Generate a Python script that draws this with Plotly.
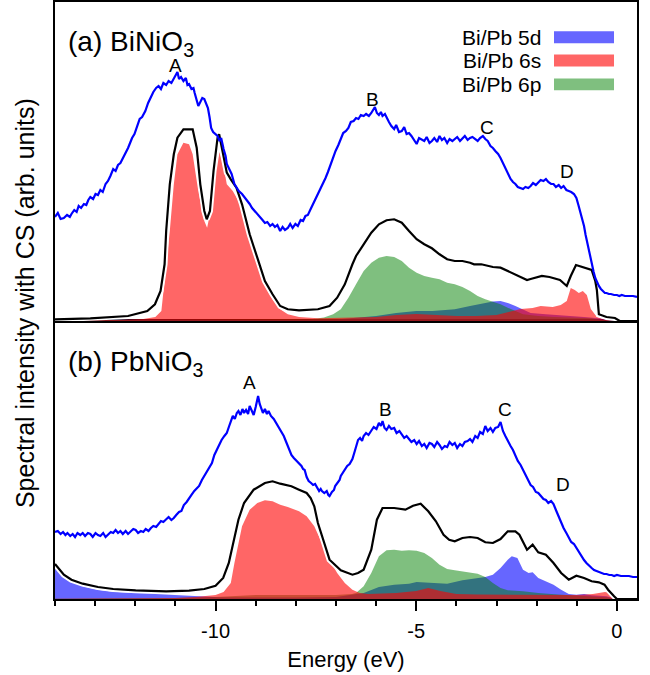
import plotly.graph_objects as go

# ---------------- data (energies in eV, intensities in arb. units) -------------
# Panel (a) BiNiO3
a_exp_E = [-14.00,-13.93,-13.86,-13.78,-13.70,-13.63,-13.59,-13.52,-13.46,-13.41,-13.35,-13.28,-13.22,-13.17,-13.12,-13.05,-12.99,-12.93,-12.87,-12.81,-12.74,-12.68,-12.62,-12.55,-12.49,-12.43,-12.37,-12.30,-12.24,-12.18,-12.13,-12.08,-12.02,-11.95,-11.89,-11.83,-11.75,-11.68,-11.61,-11.55,-11.48,-11.42,-11.36,-11.30,-11.23,-11.17,-11.10,-11.04,-10.98,-10.95,-10.91,-10.86,-10.80,-10.74,-10.70,-10.66,-10.60,-10.55,-10.52,-10.47,-10.43,-10.38,-10.33,-10.28,-10.23,-10.19,-10.15,-10.11,-10.06,-10.00,-9.95,-9.90,-9.86,-9.80,-9.75,-9.72,-9.66,-9.60,-9.53,-9.48,-9.42,-9.34,-9.28,-9.21,-9.15,-9.09,-9.02,-8.96,-8.90,-8.83,-8.77,-8.71,-8.64,-8.58,-8.52,-8.46,-8.39,-8.33,-8.27,-8.20,-8.14,-8.08,-8.01,-7.95,-7.88,-7.82,-7.76,-7.70,-7.63,-7.57,-7.51,-7.45,-7.39,-7.32,-7.26,-7.20,-7.13,-7.07,-7.01,-6.94,-6.88,-6.82,-6.75,-6.69,-6.63,-6.56,-6.50,-6.44,-6.38,-6.31,-6.25,-6.18,-6.12,-6.07,-6.03,-5.98,-5.93,-5.88,-5.84,-5.78,-5.74,-5.68,-5.62,-5.55,-5.50,-5.43,-5.36,-5.30,-5.24,-5.18,-5.12,-5.05,-4.99,-4.93,-4.86,-4.80,-4.74,-4.67,-4.61,-4.55,-4.48,-4.42,-4.36,-4.30,-4.23,-4.17,-4.10,-4.04,-3.98,-3.91,-3.85,-3.79,-3.72,-3.66,-3.60,-3.53,-3.47,-3.41,-3.34,-3.28,-3.22,-3.15,-3.09,-3.03,-2.96,-2.90,-2.84,-2.78,-2.72,-2.65,-2.59,-2.53,-2.47,-2.40,-2.34,-2.28,-2.21,-2.15,-2.09,-2.02,-1.96,-1.90,-1.83,-1.77,-1.71,-1.64,-1.58,-1.52,-1.45,-1.39,-1.33,-1.26,-1.20,-1.14,-1.07,-1.01,-0.96,-0.92,-0.87,-0.82,-0.78,-0.73,-0.68,-0.63,-0.58,-0.54,-0.49,-0.45,-0.40,-0.35,-0.30,-0.26,-0.20,-0.15,-0.07,0.00,0.06,0.12,0.20,0.30,0.40,0.50]
a_exp_I = [104,108,102,103,106,104,107,111,109,115,113,117,116,121,124,122,127,126,131,129,137,140,145,152,150,156,158,163,168,173,178,183,187,195,202,204,210,218,225,229,233,235,232,238,236,240,238,242,246,249,242,244,240,243,236,237,232,233,228,222,215,219,223,222,216,213,204,193,189,187,185,180,183,172,165,157,152,147,137,134,130,127,124,120,117,113,110,107,104,101,98,99,95,97,94,96,90,94,91,93,97,93,97,95,101,100,105,106,112,117,121,127,132,137,143,149,157,163,170,176,183,188,190,193,199,200,203,202,206,205,207,205,208,211,214,208,206,209,205,207,203,199,195,192,196,189,190,194,187,188,185,180,177,183,181,180,184,178,180,183,179,185,181,183,178,182,180,182,184,180,183,185,181,183,184,182,180,183,185,182,180,175,173,170,167,163,158,152,147,142,139,137,134,133,132,134,133,135,138,136,139,141,140,142,139,137,137,134,136,133,135,131,130,129,127,123,116,110,105,95,86,76,66,57,49,43,38,35,32,30,28,28,27,27,26,26,25,26,25,25,25,24]

a_tot_E = [-14.0,-13.12,-12.18,-11.7,-11.51,-11.37,-11.27,-11.23,-11.14,-11.04,-10.95,-10.80,-10.57,-10.47,-10.38,-10.28,-10.22,-10.14,-10.05,-9.95,-9.91,-9.81,-9.72,-9.62,-9.48,-9.34,-9.15,-8.96,-8.77,-8.58,-8.39,-8.20,-7.92,-7.45,-7.16,-6.97,-6.78,-6.59,-6.50,-6.31,-6.12,-5.93,-5.74,-5.55,-5.36,-5.18,-4.99,-4.80,-4.61,-4.42,-4.23,-4.04,-3.85,-3.66,-3.56,-3.38,-3.09,-2.90,-2.72,-2.53,-2.24,-2.15,-1.97,-1.87,-1.68,-1.42,-1.25,-1.15,-1.02,-0.84,-0.63,-0.54,-0.50,-0.45,-0.26,-0.05,0.07,0.5]
a_tot_I = [1.7,2.7,5,10,16.7,30,56.7,90,136.7,166.7,183.3,191.7,191.7,173.3,136.7,110,101.7,110,150,183.3,186.7,166.7,148.3,141.7,133.3,116.7,86.7,63.3,40,26.7,15,11.7,10.7,11.7,15,23.3,36.7,56.7,65,76.7,88.3,96.7,100.7,101.7,98.3,90,81.7,76.7,72.7,66.7,61.7,60,60,58.3,56.7,56.7,54,53.3,50,46,41,42,44,45,44,41,35,45,56,54,51,40,31,6.7,4,3,0,0]

a_5d_E = [-14,-12,-10,-8,-7,-6.5,-6,-5.5,-5.0,-4.6,-4.04,-3.66,-3.28,-3.09,-2.90,-2.72,-2.53,-2.34,-2.15,-1.77,-1.30,-0.82,-0.45,-0.2,0,0.5]
a_5d_I = [1.5,1.2,1,1,1.5,3,5,8,10,10,11.7,15,18,19.5,20,18,15,11.7,8,6.7,5,4,2.7,1,0,0]

a_6s_E = [-14,-12.5,-11.8,-11.5,-11.35,-11.23,-11.14,-11.04,-10.95,-10.80,-10.66,-10.57,-10.43,-10.28,-10.21,-10.09,-10.0,-9.91,-9.81,-9.72,-9.57,-9.43,-9.34,-9.15,-8.96,-8.77,-8.58,-8.39,-8.20,-7.92,-7.45,-7.0,-6.0,-5.5,-5.0,-4.5,-4.0,-3.5,-3.0,-2.7,-2.4,-2.1,-1.9,-1.6,-1.4,-1.25,-1.15,-1.05,-0.95,-0.85,-0.75,-0.65,-0.5,-0.3,-0.1,0,0.5]
a_6s_I = [0.5,1,2,4,10,56.7,90,136.7,166.7,178.3,176.7,166.7,130,100,93.3,116.7,150,170,156.7,136.7,130,120,110,80,56.7,35,21.7,11.7,6.7,4,2.7,3,4,6,7,6,5,5,6,9,12,13,15,14,16,20,33,31,28,30,26,12,4,1.5,0.5,0,0]

a_6p_E = [-14,-11,-9,-8,-7.63,-7.3,-7.07,-6.88,-6.69,-6.50,-6.31,-6.12,-5.93,-5.74,-5.55,-5.36,-5.18,-4.99,-4.80,-4.61,-4.42,-4.23,-4.04,-3.85,-3.66,-3.47,-3.28,-3.09,-2.90,-2.72,-2.53,-2.34,-1.96,-1.58,-1.01,-0.63,-0.45,-0.2,0,0.5]
a_6p_I = [1,1.5,1.5,1.5,1.7,3.5,6.7,11.7,23.3,36.7,50,58.3,63.3,65,64,60,53.3,48.3,45,43.3,41.7,38.3,36.7,34,30,25,21.7,19.3,16.7,13.3,10,6.7,5,4,3.3,2.7,1.3,0.5,0,0]

# Panel (b) PbNiO3
b_exp_E = [-14.00,-13.93,-13.86,-13.80,-13.74,-13.69,-13.62,-13.56,-13.50,-13.44,-13.37,-13.31,-13.25,-13.18,-13.12,-13.06,-12.99,-12.93,-12.87,-12.80,-12.74,-12.68,-12.61,-12.55,-12.49,-12.43,-12.37,-12.31,-12.24,-12.18,-12.12,-12.05,-11.99,-11.93,-11.86,-11.80,-11.74,-11.67,-11.61,-11.55,-11.48,-11.42,-11.36,-11.30,-11.23,-11.17,-11.10,-11.04,-10.98,-10.91,-10.85,-10.79,-10.72,-10.66,-10.60,-10.53,-10.47,-10.41,-10.34,-10.28,-10.22,-10.15,-10.09,-10.03,-9.97,-9.91,-9.85,-9.78,-9.72,-9.66,-9.61,-9.57,-9.52,-9.47,-9.43,-9.38,-9.33,-9.29,-9.24,-9.19,-9.15,-9.10,-9.05,-9.00,-8.94,-8.90,-8.86,-8.82,-8.77,-8.72,-8.68,-8.62,-8.55,-8.49,-8.43,-8.36,-8.30,-8.24,-8.17,-8.11,-8.05,-7.98,-7.92,-7.86,-7.82,-7.78,-7.73,-7.68,-7.62,-7.57,-7.52,-7.47,-7.42,-7.38,-7.35,-7.29,-7.23,-7.19,-7.16,-7.10,-7.05,-7.02,-6.96,-6.91,-6.88,-6.83,-6.78,-6.72,-6.66,-6.59,-6.53,-6.49,-6.45,-6.40,-6.35,-6.31,-6.25,-6.19,-6.12,-6.06,-5.99,-5.93,-5.88,-5.84,-5.79,-5.74,-5.68,-5.62,-5.55,-5.49,-5.42,-5.36,-5.30,-5.24,-5.18,-5.12,-5.05,-4.99,-4.93,-4.86,-4.80,-4.74,-4.67,-4.61,-4.55,-4.48,-4.42,-4.36,-4.29,-4.23,-4.17,-4.10,-4.04,-3.98,-3.91,-3.85,-3.79,-3.72,-3.66,-3.60,-3.53,-3.47,-3.41,-3.34,-3.28,-3.22,-3.15,-3.09,-3.03,-2.96,-2.90,-2.84,-2.78,-2.72,-2.65,-2.59,-2.53,-2.47,-2.40,-2.34,-2.28,-2.21,-2.15,-2.09,-2.02,-1.96,-1.90,-1.83,-1.77,-1.71,-1.64,-1.58,-1.52,-1.45,-1.39,-1.33,-1.26,-1.20,-1.14,-1.07,-1.01,-0.95,-0.88,-0.82,-0.76,-0.69,-0.63,-0.57,-0.51,-0.45,-0.38,-0.32,-0.26,-0.19,-0.13,-0.07,0.00,0.10,0.20,0.30,0.40,0.50]
b_exp_I = [67,68,65,67,64,66,63,65,62,66,64,66,63,66,65,62,66,64,63,66,62,64,67,66,69,66,68,65,68,65,67,70,69,66,68,67,70,68,71,73,72,75,78,77,80,82,79,81,84,87,88,94,97,101,104,108,111,113,119,123,127,131,136,144,149,154,159,163,166,173,178,183,180,186,188,184,190,186,189,185,193,189,184,192,203,195,190,186,190,185,188,183,180,176,173,168,163,157,150,144,141,138,136,133,130,129,122,118,116,114,115,111,108,110,108,106,108,104,103,107,109,113,117,119,123,126,129,133,135,140,148,153,159,161,158,163,166,164,169,172,170,176,173,178,171,169,173,170,171,166,168,164,161,163,160,157,159,155,158,153,155,151,156,155,152,157,154,150,153,152,157,154,156,151,155,153,157,158,160,157,163,161,167,165,173,168,171,167,171,172,177,168,163,158,153,149,143,138,134,129,124,119,114,112,107,106,103,100,99,96,98,95,89,82,76,71,66,61,57,55,51,47,43,39,36,33,31,29,28,27,26,25,25,24,24,23,24,23,23,23,22,22]

b_tot_E = [-14.0,-13.78,-13.59,-13.31,-12.93,-12.55,-11.99,-11.23,-10.66,-10.28,-10.00,-9.81,-9.67,-9.53,-9.43,-9.29,-9.05,-8.77,-8.58,-8.39,-8.11,-7.92,-7.73,-7.63,-7.54,-7.45,-7.30,-7.16,-6.88,-6.59,-6.45,-6.31,-6.12,-5.98,-5.84,-5.55,-5.27,-5.08,-4.89,-4.70,-4.51,-4.32,-4.18,-4.04,-3.85,-3.66,-3.47,-3.28,-3.09,-2.90,-2.72,-2.53,-2.43,-2.24,-2.10,-1.96,-1.77,-1.58,-1.39,-1.20,-1.01,-0.82,-0.63,-0.45,-0.31,-0.22,-0.07,0.0,0.5]
b_tot_I = [35,24.3,19.3,15.3,12,10,8.7,7.7,8.3,10,13.3,21,36,62.7,79.3,96,109.3,116,117.7,115.3,112.7,109.3,106,101,92.7,76,56,39.3,28.7,24.3,26,29.3,49.3,79.3,91,91,89.3,93.3,95.3,87.7,77.7,64.3,59.3,57.7,61,62,61,56.7,56,60,67.7,67.7,64.3,49.3,54.3,46.7,44.3,36,26,19.3,23.3,21,17.7,16.7,14.3,9.3,2.7,0,0]

b_5d_E = [-14.0,-13.78,-13.59,-13.31,-12.93,-12.55,-11.99,-11.23,-10.66,-10.28,-9.91,-8.0,-7.0,-6.31,-5.93,-5.55,-5.18,-4.99,-4.61,-4.23,-3.85,-3.47,-3.28,-3.09,-2.90,-2.72,-2.62,-2.48,-2.34,-2.20,-2.10,-1.96,-1.77,-1.58,-1.39,-1.20,-1.01,-0.82,-0.63,-0.26,0.0,0.5]
b_5d_I = [33,22.7,17.7,12.7,9.3,7.3,6,4.3,3.7,2.7,1.7,1.5,2,6,12,14.3,15.3,17,16,15.3,18.7,21,22,24.3,31,39.3,42.7,41,29.3,26,26.7,21,17.7,14.3,9.3,5,4.3,5,3.7,2.7,0,0]

b_6s_E = [-14,-12,-11,-10.5,-10.0,-9.8,-9.62,-9.53,-9.43,-9.34,-9.15,-8.96,-8.77,-8.58,-8.39,-8.20,-7.92,-7.73,-7.54,-7.35,-7.16,-6.97,-6.78,-6.59,-6.41,-6.2,-5.5,-5.0,-4.7,-4.4,-4.0,-3.5,-3.0,-2.5,-2.0,-1.5,-1.0,-0.6,-0.3,-0.1,0,0.5]
b_6s_I = [0.3,0.5,1,2,4,7,16,36,56,72.7,89.3,96,98.7,97.7,94.3,92,87.7,82.7,72.7,56,39.3,26,16,9.3,6,5,6,8,11,8,5,4.5,4.5,4.5,4,4,4,5,7,6,0,0]

b_6p_E = [-14,-11,-10,-9,-8,-7,-6.6,-6.50,-6.31,-6.12,-5.93,-5.74,-5.55,-5.36,-5.18,-4.99,-4.80,-4.61,-4.42,-4.23,-4.04,-3.85,-3.66,-3.47,-3.28,-3.09,-2.90,-2.72,-2.34,-1.96,-1.39,-0.82,-0.26,0,0.5]
b_6p_I = [0.3,1,2,4,4,4,5,6,12.7,26,42.7,48.7,49.3,48.3,48.7,48.3,46,41,34.3,30,28.7,27.7,26.7,25.3,22,16,11,8.7,7.7,6,4.3,2.7,1.7,0,0]

# labels
peak_names = ["A", "B", "C", "D"]
a_peak_E = [-11.0, -6.1, -3.23, -1.24]
a_peak_I = [256, 221, 193, 149]
b_peak_E = [-9.15, -5.77, -2.79, -1.34]
b_peak_I = [216, 189, 189, 114]
legend_names = ["Bi/Pb 5d", "Bi/Pb 6s", "Bi/Pb 6p"]
legend_colors = ["#6666ff", "#ff6666", "#7fbf7f"]
tick_values = [-10, -5, 0]
tick_labels = ["-10", "-5", "0"]

# ---------------- figure ----------------
FONT = "Liberation Sans, Arial, sans-serif"
fill_5d = "rgba(0,0,255,0.6)"
fill_6s = "rgba(255,0,0,0.6)"
fill_6p = "rgba(0,128,0,0.5)"

fig = go.Figure()

def add_panel(xa, ya, d5E, d5I, s6E, s6I, p6E, p6I, tE, tI, eE, eI):
    for E, I, col in [(d5E, d5I, fill_5d), (p6E, p6I, fill_6p), (s6E, s6I, fill_6s)]:
        fig.add_trace(go.Scatter(x=E, y=I, mode="lines", fill="tozeroy", fillcolor=col,
                                 line=dict(width=0, color="rgba(0,0,0,0)"),
                                 xaxis=xa, yaxis=ya, showlegend=False, hoverinfo="skip"))
    fig.add_trace(go.Scatter(x=tE, y=tI, mode="lines", line=dict(color="white", width=6),
                             xaxis=xa, yaxis=ya, showlegend=False, hoverinfo="skip"))
    fig.add_trace(go.Scatter(x=tE, y=tI, mode="lines", line=dict(color="black", width=2.2),
                             xaxis=xa, yaxis=ya, showlegend=False))
    fig.add_trace(go.Scatter(x=eE, y=eI, mode="lines", line=dict(color="#0000ff", width=2.2),
                             xaxis=xa, yaxis=ya, showlegend=False))

add_panel("x2", "y", a_5d_E, a_5d_I, a_6s_E, a_6s_I, a_6p_E, a_6p_I, a_tot_E, a_tot_I, a_exp_E, a_exp_I)
add_panel("x", "y2", b_5d_E, b_5d_I, b_6s_E, b_6s_I, b_6p_E, b_6p_I, b_tot_E, b_tot_I, b_exp_E, b_exp_I)

split = 0.4657
xr = [-14, 0.5]
fig.update_layout(
    width=650, height=675,
    margin=dict(l=55, r=13, t=2, b=76, autoexpand=False),
    paper_bgcolor="white", plot_bgcolor="white",
    font=dict(family=FONT, color="black"),
    xaxis=dict(domain=[0, 1], anchor="y2", range=xr, showline=True, linecolor="black", linewidth=2,
               mirror=True, showgrid=False, zeroline=False, automargin=False,
               tickmode="array", tickvals=tick_values, ticktext=tick_labels,
               ticks="outside", ticklen=10, tickwidth=1.5, ticklabelstandoff=3,
               tickcolor="black", tickfont=dict(size=20, family=FONT),
               minor=dict(tickmode="linear", tick0=0, dtick=1, ticks="outside", ticklen=5,
                          tickwidth=1.5, tickcolor="black", showgrid=False),
               title=dict(text="Energy (eV)", font=dict(size=22, family=FONT), standoff=11)),
    xaxis2=dict(domain=[0, 1], anchor="y", range=xr, showline=True, linecolor="black", linewidth=2,
                mirror=True, showgrid=False, zeroline=False, showticklabels=False, ticks="",
                automargin=False),
    yaxis=dict(domain=[split, 1], anchor="x2", range=[0, 319], showline=True, linecolor="black",
               linewidth=2, mirror=True, showgrid=False, zeroline=False, showticklabels=False,
               ticks="", automargin=False),
    yaxis2=dict(domain=[0, split], anchor="x", range=[0, 278], showline=True, linecolor="black",
                linewidth=2, mirror=True, showgrid=False, zeroline=False, showticklabels=False,
                ticks="", automargin=False),
)

ann = []
for n, E, I in zip(peak_names, a_peak_E, a_peak_I):
    ann.append(dict(x=E, y=I, xref="x2", yref="y", text=n, showarrow=False,
                    font=dict(size=19, family=FONT)))
for n, E, I in zip(peak_names, b_peak_E, b_peak_I):
    ann.append(dict(x=E, y=I, xref="x", yref="y2", text=n, showarrow=False,
                    font=dict(size=19, family=FONT)))
ann.append(dict(x=0.019, y=0.931, xref="paper", yref="paper", xanchor="left", yanchor="middle",
                text="(a) BiNiO<sub>3</sub>", showarrow=False, font=dict(size=28, family=FONT)))
ann.append(dict(x=0.019, y=0.394, xref="paper", yref="paper", xanchor="left", yanchor="middle",
                text="(b) PbNiO<sub>3</sub>", showarrow=False, font=dict(size=28, family=FONT)))
ann.append(dict(x=-0.078, y=0.495, xref="paper", yref="paper", textangle=-90,
                text="Spectral intensity with CS (arb. units)", showarrow=False,
                font=dict(size=25, family=FONT)))

shapes = []
row_y = [0.941, 0.902, 0.862]
for name, col, yc in zip(legend_names, legend_colors, row_y):
    ann.append(dict(x=0.8385, y=yc, xref="paper", yref="paper", xanchor="right", yanchor="middle",
                    text=name, showarrow=False, font=dict(size=21, family=FONT)))
    shapes.append(dict(type="rect", xref="paper", yref="paper", x0=0.8574, x1=0.9605,
                       y0=yc - 0.0100, y1=yc + 0.0100, fillcolor=col, line=dict(width=0)))

fig.update_layout(annotations=ann, shapes=shapes)
fig.write_html("out.html", config={"displayModeBar": False},
               post_script="document.body.style.margin='0';")
